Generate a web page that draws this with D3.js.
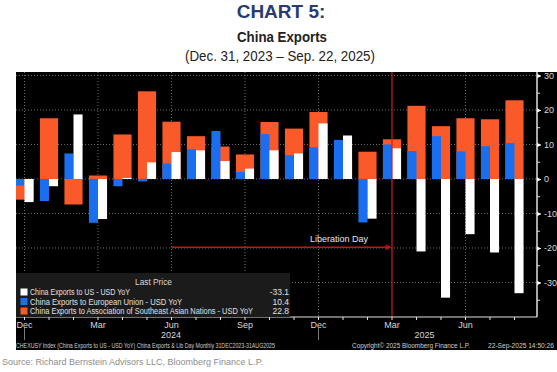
<!DOCTYPE html>
<html>
<head>
<meta charset="utf-8">
<script src="https://cdn.jsdelivr.net/npm/d3@7"></script>
<style>
  body { margin: 0; background: #fff; }
  svg text { font-family: "Liberation Sans Narrow", "Arial Narrow", "Liberation Sans", sans-serif; }
</style>
</head>
<body>
<div id="chart"></div>
<script>
const width = 557,
  height = 372;

// DATA
const months = ["Dec 2023", "Jan 2024", "Feb 2024", "Mar 2024", "Apr 2024", "May 2024", "Jun 2024",
  "Jul 2024", "Aug 2024", "Sep 2024", "Oct 2024", "Nov 2024", "Dec 2024", "Jan 2025", "Feb 2025",
  "Mar 2025", "Apr 2025", "May 2025", "Jun 2025", "Jul 2025", "Aug 2025"];
const usYoY = [-6.7, -2.1, 18.7, -11.6, 0.3, 4.8, 7.8, 8.3, 5.2, 3.0, 8.3, 7.4, 16.1, 12.6, -11.5, 8.9, -21.0, -34.4, -16.0, -21.3, -33.1];
const euYoY = [-1.9, -6.4, 7.4, -12.7, -2.1, -0.7, 4.5, 8.6, 13.9, 2.0, 13.0, 6.9, 9.2, 11.3, -12.6, 10.0, 8.1, 12.4, 8.0, 9.5, 10.4];
const aseanYoY = [-6.0, 17.6, -7.4, 1.0, 12.9, 25.4, 16.6, 12.4, 9.4, 7.1, 16.5, 14.6, 19.4, 6.0, 7.9, 11.5, 21.2, 15.3, 17.6, 17.3, 22.8];
const seriesNames = ["China Exports to US - USD YoY", "China Exports to European Union - USD YoY",
  "China Exports to Association of Southeast Asian Nations - USD YoY"];
const lastPrice = ["-33.1", "10.4", "22.8"];
const yTicks = [-30, -20, -10, 0, 10, 20, 30];
const yMinorTicks = [-35, -25, -15, -5, 5, 15, 25];
const quarterMonths = ["Dec", "Mar", "Jun", "Sep"];
const years = [{ label: "2024", from: "Dec 2023", to: "Dec 2024" }, { label: "2025", from: "Dec 2024", to: "Aug 2025" }];
const eventMonth = "Mar 2025", eventStart = "Jun 2024", eventValue = -19.8;

const colUS = "#ffffff", colEU = "#1a6ff0", colASEAN = "#fa5a2a";

const svg = d3.select("#chart").append("svg")
  .attr("width", width)
  .attr("height", height);

svg.append("rect").attr("width", width).attr("height", height).attr("fill", "#fff");

// TITLES
svg.append("text")
  .attr("x", 281).attr("y", 18)
  .attr("text-anchor", "middle")
  .style("font-family", "'Liberation Sans', Arial, sans-serif")
  .attr("font-weight", "bold").attr("font-size", 19)
  .attr("fill", "#2a3b6e")
  .text("CHART 5:");
svg.append("text")
  .attr("x", 237).attr("y", 42)
  .attr("font-weight", "bold").attr("font-size", 15)
  .attr("fill", "#222")
  .attr("textLength", 90).attr("lengthAdjust", "spacingAndGlyphs")
  .text("China Exports");
svg.append("text")
  .attr("x", 185).attr("y", 61)
  .attr("font-size", 15.5)
  .attr("fill", "#222")
  .attr("textLength", 190).attr("lengthAdjust", "spacingAndGlyphs")
  .text("(Dec. 31, 2023 \u2013 Sep. 22, 2025)");

// PANEL
const panel = { left: 16, top: 72, right: 557, bottom: 350 };
const plot = { left: 16, right: 537, top: 72, bottom: 317 };

svg.append("rect")
  .attr("x", panel.left).attr("y", panel.top)
  .attr("width", panel.right - panel.left).attr("height", panel.bottom - panel.top)
  .attr("fill", "#000");

svg.append("clipPath").attr("id", "plotclip")
  .append("rect")
  .attr("x", plot.left).attr("y", plot.top)
  .attr("width", plot.right - plot.left).attr("height", plot.bottom - plot.top);

// SCALES
const x = d3.scaleBand()
  .domain(months)
  .range([12.25, 526.75])
  .paddingInner(0.26)
  .paddingOuter(0.13);
const bw = x.bandwidth();
const cx = m => x(m) + bw / 2;

const y = d3.scaleLinear()
  .domain([-40, 31])
  .range([plot.bottom, plot.top]);

// GRID
const grid = svg.append("g").attr("clip-path", "url(#plotclip)");
grid.selectAll(".hgrid")
  .data(yTicks)
  .join("line")
  .attr("x1", plot.left).attr("x2", plot.right)
  .attr("y1", d => y(d)).attr("y2", d => y(d))
  .attr("stroke", "#8a8a8a").attr("stroke-width", 0.8)
  .attr("stroke-dasharray", "1,2");
grid.selectAll(".vgrid")
  .data(months.filter(m => quarterMonths.includes(m.slice(0, 3)) && m !== eventMonth))
  .join("line")
  .attr("x1", d => cx(d)).attr("x2", d => cx(d))
  .attr("y1", plot.top).attr("y2", plot.bottom)
  .attr("stroke", "#8a8a8a").attr("stroke-width", 0.8)
  .attr("stroke-dasharray", "1,2");

// BARS
const rows = months.map((m, i) => ({ m, us: usYoY[i], eu: euYoY[i], asean: aseanYoY[i] }));
const bars = svg.append("g").attr("clip-path", "url(#plotclip)");

bars.selectAll(".asean")
  .data(rows)
  .join("rect")
  .attr("x", d => x(d.m))
  .attr("width", bw)
  .attr("y", d => y(Math.max(0, d.asean)))
  .attr("height", d => Math.abs(y(d.asean) - y(0)))
  .attr("fill", colASEAN);

bars.selectAll(".eu")
  .data(rows)
  .join("rect")
  .attr("x", d => x(d.m))
  .attr("width", bw / 2)
  .attr("y", d => y(Math.max(0, d.eu)))
  .attr("height", d => Math.abs(y(d.eu) - y(0)))
  .attr("fill", colEU);

bars.selectAll(".us")
  .data(rows)
  .join("rect")
  .attr("x", d => x(d.m) + bw / 2)
  .attr("width", bw / 2)
  .attr("y", d => y(Math.max(0, d.us)))
  .attr("height", d => Math.max(0.8, Math.abs(y(d.us) - y(0))))
  .attr("fill", colUS);

// LIBERATION DAY
svg.append("line")
  .attr("x1", cx(eventMonth)).attr("x2", cx(eventMonth))
  .attr("y1", plot.top).attr("y2", plot.bottom)
  .attr("stroke", "#d61a1a").attr("stroke-width", 1.2);

svg.append("defs").append("marker")
  .attr("id", "arrow")
  .attr("viewBox", "0 0 10 10")
  .attr("refX", 9).attr("refY", 5)
  .attr("markerWidth", 4).attr("markerHeight", 4)
  .attr("orient", "auto")
  .append("path")
  .attr("d", "M1,1 L9,5 L1,9")
  .attr("fill", "none").attr("stroke", "#e01010").attr("stroke-width", 2.2);

svg.append("line")
  .attr("x1", cx(eventStart)).attr("x2", cx(eventMonth) - 2)
  .attr("y1", y(eventValue)).attr("y2", y(eventValue))
  .attr("stroke", "#c81414").attr("stroke-width", 1.4)
  .attr("marker-end", "url(#arrow)");

svg.append("text")
  .attr("x", cx(eventMonth) - 82).attr("y", y(eventValue) - 5)
  .attr("font-size", 9).attr("fill", "#e8e8e8")
  .attr("textLength", 58).attr("lengthAdjust", "spacingAndGlyphs")
  .text("Liberation Day");

// RIGHT AXIS
const yAxis = svg.append("g")
  .attr("transform", `translate(${plot.right},0)`)
  .call(d3.axisRight(y).tickValues(yTicks).tickSize(4).tickPadding(3).tickFormat(d => d));
const yMinor = svg.append("g")
  .attr("transform", `translate(${plot.right},0)`)
  .call(d3.axisRight(y).tickValues(yMinorTicks).tickSize(3).tickFormat(""));
[yAxis, yMinor].forEach(g => {
  g.select(".domain").attr("stroke", "#e0e0e0").attr("d", `M0,${plot.top}V${plot.bottom}`);
  g.selectAll(".tick line").attr("stroke", "#e0e0e0");
});
yAxis.selectAll(".tick text")
  .attr("fill", "#d8d8d8").attr("font-size", 9);
yAxis.selectAll(".tick").append("path")
  .attr("d", "M0,-2.2L4,0L0,2.2Z")
  .attr("fill", "#fff");

// BOTTOM AXIS
const xAxis = svg.append("g")
  .attr("transform", `translate(0,${plot.bottom})`)
  .call(d3.axisBottom(x).tickSize(3).tickPadding(2)
    .tickFormat(d => quarterMonths.includes(d.slice(0, 3)) ? d.slice(0, 3) : ""));
xAxis.select(".domain").attr("stroke", "#e0e0e0").attr("d", `M${plot.left},0H${plot.right}`);
xAxis.selectAll(".tick line").attr("stroke", "#e0e0e0");
xAxis.selectAll(".tick text").attr("fill", "#d8d8d8").attr("font-size", 9);

svg.selectAll(".yearsep")
  .data(["Dec 2023", "Dec 2024"])
  .join("line")
  .attr("x1", d => cx(d)).attr("x2", d => cx(d))
  .attr("y1", plot.bottom + 10).attr("y2", plot.bottom + 23)
  .attr("stroke", "#9a9a9a").attr("stroke-width", 0.8);

svg.selectAll(".year")
  .data(years)
  .join("text")
  .attr("x", d => d.label === "2024" ? (cx(d.from) + cx(d.to)) / 2 - 0.5 : (cx(d.from) + cx(d.to)) / 2 + 8)
  .attr("y", plot.bottom + 21)
  .attr("text-anchor", "middle")
  .attr("font-size", 9).attr("fill", "#d8d8d8")
  .text(d => d.label);

// LEGEND
const legend = svg.append("g");
legend.append("rect")
  .attr("x", panel.left).attr("y", 273)
  .attr("width", 274).attr("height", 44)
  .attr("fill", "#1b1b1b");
legend.append("text")
  .attr("x", 135).attr("y", 285)
  .attr("font-size", 8.5).attr("fill", "#d8d8d8")
  .attr("textLength", 37).attr("lengthAdjust", "spacingAndGlyphs")
  .text("Last Price");
const legendColors = [colUS, colEU, colASEAN];
const legendWidths = [100, 152, 223];
const lrow = legend.selectAll(".lrow")
  .data(seriesNames)
  .join("g")
  .attr("transform", (d, i) => `translate(0,${292 + i * 9.5})`);
lrow.append("rect")
  .attr("x", 20.5).attr("y", -3.5)
  .attr("width", 7).attr("height", 7)
  .attr("fill", (d, i) => legendColors[i]);
lrow.append("text")
  .attr("x", 30).attr("y", 3)
  .attr("font-size", 8.5).attr("fill", "#e0e0e0")
  .attr("textLength", (d, i) => legendWidths[i]).attr("lengthAdjust", "spacingAndGlyphs")
  .text(d => d);
lrow.append("text")
  .attr("x", 289).attr("y", 3)
  .attr("text-anchor", "end")
  .attr("font-size", 8.5).attr("fill", "#e0e0e0")
  .text((d, i) => lastPrice[i]);

// FOOTER
const foot = [
  { t: "CHEXUSY Index (China Exports to US - USD YoY) China Exports & Lib Day  Monthly 31DEC2023-31AUG2025", x: 16, w: 259 },
  { t: "Copyright\u00a9 2025 Bloomberg Finance L.P.", x: 352, w: 118 },
  { t: "22-Sep-2025 14:50:26", x: 488, w: 66 }
];
svg.selectAll(".foot")
  .data(foot)
  .join("text")
  .attr("x", d => d.x).attr("y", 348)
  .attr("font-size", 7).attr("fill", "#cfcfcf")
  .attr("textLength", d => d.w).attr("lengthAdjust", "spacingAndGlyphs")
  .text(d => d.t);

svg.append("text")
  .attr("x", 2).attr("y", 365)
  .style("font-family", "'Liberation Sans', Arial, sans-serif")
  .attr("font-size", 9).attr("fill", "#8c8c8c")
  .text("Source: Richard Bernstein Advisors LLC, Bloomberg Finance L.P.");
</script>
</body>
</html>
